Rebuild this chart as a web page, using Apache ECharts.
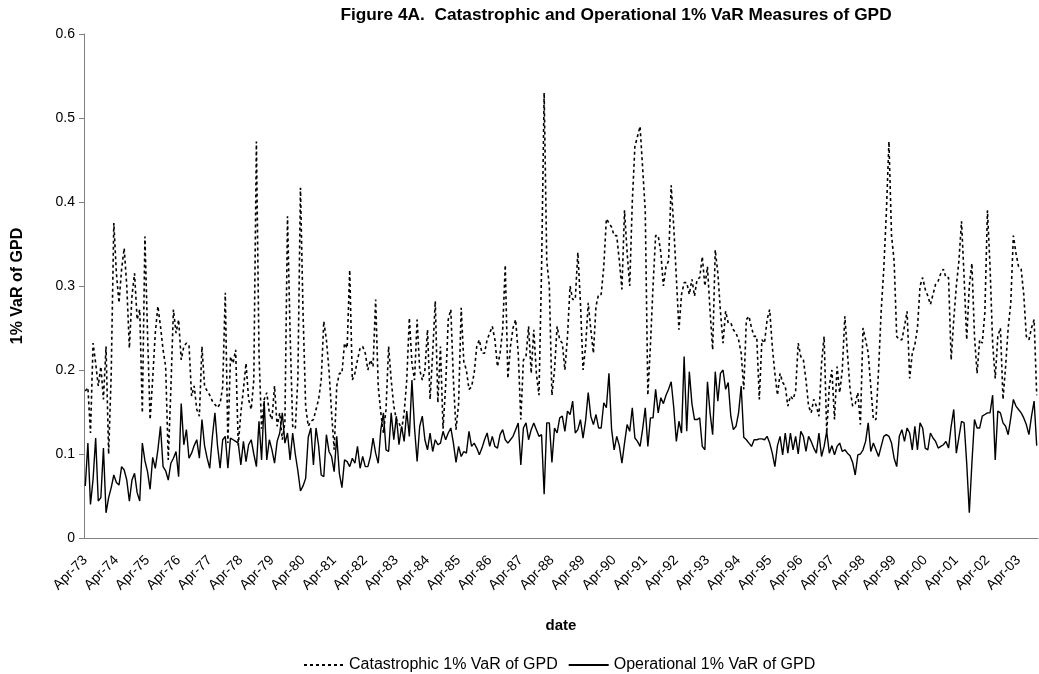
<!DOCTYPE html>
<html>
<head>
<meta charset="utf-8">
<script src="https://cdn.jsdelivr.net/npm/echarts@6/dist/echarts.min.js"></script>
<style>
  html, body { margin: 0; padding: 0; background: #fff; }
  #chart { width: 1039px; height: 674px; }
</style>
</head>
<body>
<div id="chart"></div>
<script>
// monthly series, Apr-73 onwards
var catastrophic = [
  0.175,0.179,0.125,0.232,0.208,0.181,0.204,0.165,0.228,0.100,0.196,0.375,0.315,0.280,0.320,0.345,0.300,0.226,0.288,0.315,0.260,0.272,0.149,0.359,0.244,0.141,0.190,0.244,0.276,0.252,0.224,0.204,0.093,0.177,0.272,0.244,0.260,0.212,0.228,0.232,0.230,0.169,0.181,0.153,0.145,
  0.228,0.181,0.175,0.170,0.163,0.159,0.155,0.160,0.180,0.292,0.113,0.216,0.208,0.224,0.110,0.149,0.177,0.208,0.165,0.153,0.188,0.472,0.220,0.130,0.165,0.173,0.149,0.141,0.181,0.133,0.149,0.117,0.137,0.383,0.244,0.133,0.130,0.190,0.417,0.268,0.157,0.133,0.139,0.141,0.153,
  0.165,0.188,0.258,0.236,0.200,0.149,0.105,0.181,0.196,0.196,0.232,0.226,0.319,0.188,0.196,0.212,0.226,0.228,0.220,0.200,0.212,0.204,0.284,0.180,0.149,0.125,0.153,0.228,0.188,0.157,0.141,0.137,0.129,0.149,0.188,0.262,0.208,0.188,0.260,0.200,0.188,0.200,0.248,0.165,
  0.220,0.282,0.161,0.228,0.130,0.181,0.260,0.272,0.188,0.129,0.160,0.274,0.210,0.200,0.177,0.180,0.196,0.228,0.236,0.220,0.220,0.236,0.244,0.252,0.236,0.204,0.220,0.248,0.325,0.190,0.228,0.250,0.260,0.220,0.141,0.212,0.216,0.252,0.196,0.248,0.196,0.170,0.320,0.530,0.330,
  0.300,0.170,0.200,0.252,0.236,0.232,0.200,0.240,0.300,0.284,0.284,0.340,0.280,0.200,0.228,0.280,0.248,0.220,0.276,0.290,0.290,0.323,0.380,0.375,0.370,0.360,0.360,0.330,0.296,0.390,0.340,0.300,0.400,0.466,0.478,0.490,0.440,0.390,0.170,0.230,0.300,0.360,0.360,0.340,
  0.300,0.323,0.330,0.420,0.370,0.310,0.248,0.290,0.304,0.304,0.290,0.308,0.288,0.308,0.310,0.335,0.300,0.323,0.270,0.224,0.343,0.315,0.270,0.232,0.270,0.256,0.256,0.248,0.244,0.236,0.220,0.177,0.260,0.264,0.250,0.240,0.240,0.165,0.236,0.232,0.260,0.272,0.228,0.196,0.170,
  0.196,0.185,0.181,0.157,0.169,0.165,0.175,0.232,0.216,0.212,0.188,0.157,0.149,0.165,0.157,0.145,0.208,0.240,0.125,0.181,0.200,0.141,0.204,0.173,0.200,0.264,0.220,0.177,0.157,0.160,0.173,0.135,0.250,0.236,0.220,0.180,0.141,0.141,0.200,0.270,0.320,0.387,0.472,0.360,
  0.330,0.240,0.236,0.236,0.252,0.270,0.190,0.220,0.230,0.250,0.300,0.310,0.296,0.288,0.278,0.290,0.302,0.306,0.315,0.320,0.310,0.310,0.212,0.260,0.300,0.330,0.377,0.310,0.236,0.300,0.327,0.240,0.196,0.236,0.232,0.268,0.390,0.323,0.232,0.190,0.240,0.250,0.165,0.204,0.250,0.280,0.360,0.339,0.323,0.320,0.290,0.240,0.236,0.250,0.260,0.170
];

var operational = [
  0.062,0.113,0.040,0.070,0.119,0.044,0.048,0.107,0.030,0.048,0.060,0.075,0.066,0.063,0.085,0.081,0.069,0.044,0.069,0.077,0.054,0.044,0.113,0.092,0.079,0.058,0.096,0.083,0.105,0.133,0.085,0.080,0.069,0.089,0.095,0.103,0.073,0.160,0.111,0.129,0.095,0.101,0.110,0.117,0.095,
  0.141,0.110,0.095,0.083,0.120,0.149,0.110,0.083,0.117,0.121,0.083,0.119,0.117,0.115,0.113,0.087,0.115,0.091,0.111,0.117,0.100,0.085,0.139,0.093,0.163,0.093,0.117,0.105,0.089,0.115,0.125,0.149,0.113,0.125,0.093,0.125,0.100,0.080,0.056,0.062,0.071,0.120,0.131,0.087,0.131,
  0.110,0.075,0.073,0.123,0.103,0.097,0.079,0.121,0.077,0.060,0.093,0.091,0.085,0.095,0.089,0.109,0.083,0.097,0.085,0.085,0.097,0.119,0.101,0.089,0.129,0.149,0.105,0.103,0.149,0.117,0.145,0.111,0.133,0.115,0.151,0.121,0.188,0.131,0.091,0.133,0.145,0.117,0.105,0.125,
  0.103,0.117,0.111,0.113,0.127,0.117,0.125,0.131,0.113,0.090,0.109,0.097,0.103,0.101,0.127,0.109,0.113,0.107,0.099,0.107,0.117,0.125,0.109,0.121,0.109,0.107,0.123,0.129,0.117,0.113,0.117,0.121,0.129,0.137,0.087,0.131,0.137,0.117,0.129,0.137,0.129,0.121,0.123,0.052,0.137,
  0.137,0.090,0.131,0.125,0.143,0.145,0.127,0.151,0.147,0.163,0.125,0.129,0.141,0.119,0.140,0.173,0.145,0.135,0.147,0.131,0.131,0.161,0.155,0.196,0.130,0.105,0.121,0.110,0.089,0.113,0.135,0.127,0.155,0.119,0.115,0.109,0.130,0.155,0.109,0.143,0.143,0.177,0.149,0.167,
  0.160,0.170,0.177,0.186,0.155,0.115,0.139,0.125,0.216,0.127,0.198,0.160,0.141,0.141,0.143,0.109,0.105,0.186,0.149,0.123,0.198,0.163,0.196,0.200,0.177,0.185,0.145,0.129,0.133,0.149,0.181,0.120,0.117,0.113,0.109,0.117,0.117,0.118,0.118,0.117,0.121,0.113,0.101,0.085,0.110,
  0.121,0.099,0.125,0.101,0.125,0.105,0.121,0.100,0.127,0.121,0.103,0.121,0.115,0.107,0.101,0.125,0.097,0.109,0.127,0.101,0.110,0.099,0.109,0.113,0.103,0.105,0.101,0.098,0.090,0.075,0.099,0.100,0.105,0.115,0.137,0.103,0.113,0.105,0.097,0.109,0.121,0.123,0.121,0.113,
  0.095,0.085,0.121,0.129,0.115,0.131,0.125,0.105,0.133,0.105,0.137,0.131,0.107,0.105,0.125,0.119,0.115,0.107,0.109,0.111,0.115,0.107,0.133,0.153,0.101,0.120,0.139,0.137,0.089,0.030,0.089,0.141,0.131,0.131,0.145,0.147,0.149,0.149,0.170,0.093,0.151,0.149,0.137,0.133,0.123,0.143,0.165,0.157,0.153,0.149,0.143,0.135,0.123,0.145,0.163,0.110
];

var monthNames = ['Jan','Feb','Mar','Apr','May','Jun','Jul','Aug','Sep','Oct','Nov','Dec'];
var startYear = 1973, startMonth = 3; // Apr-73

var dates = [];
for (var i = 0; i < catastrophic.length; i++) {
  var m = startMonth + i;
  var yr = (startYear + Math.floor(m / 12)) % 100;
  dates.push(monthNames[m % 12] + '-' + (yr < 10 ? '0' + yr : yr));
}

var font = 'Arial, "Liberation Sans", sans-serif';
var chart = echarts.init(document.getElementById('chart'), null, { renderer: 'canvas' });

var option = {
  animation: false,
  backgroundColor: '#fff',
  title: {
    text: 'Figure 4A.  Catastrophic and Operational 1% VaR Measures of GPD',
    left: 611,
    textAlign: 'center',
    top: 2,
    textStyle: { fontFamily: font, fontSize: 17.3, fontWeight: 'bold', color: '#000' }
  },
  legend: {
    left: 298,
    top: 652,
    itemWidth: 40,
    itemHeight: 10,
    itemGap: 10,
    itemStyle: { opacity: 0 },
    textStyle: { fontFamily: font, fontSize: 16, color: '#000' },
    data: ['Catastrophic 1% VaR of GPD', 'Operational 1% VaR of GPD']
  },
  grid: { left: 84, right: 1, top: 34, bottom: 136 },
  xAxis: {
    type: 'category',
    data: dates,
    boundaryGap: true,
    name: 'date',
    nameLocation: 'middle',
    nameGap: 80,
    nameMoveOverlap: false,
    nameTextStyle: { fontFamily: font, fontSize: 15, fontWeight: 'bold', color: '#000' },
    axisLine: { lineStyle: { color: '#808080', width: 1 } },
    axisTick: { show: false },
    axisLabel: {
      interval: 11,
      rotate: 45,
      margin: 20,
      fontFamily: font,
      fontSize: 14,
      color: '#000'
    },
    splitLine: { show: false }
  },
  yAxis: {
    type: 'value',
    min: 0,
    max: 0.6,
    interval: 0.1,
    name: '1% VaR of GPD',
    nameLocation: 'middle',
    nameGap: 58,
    nameMoveOverlap: false,
    nameTextStyle: { fontFamily: font, fontSize: 16, fontWeight: 'bold', color: '#000' },
    axisLine: { show: true, lineStyle: { color: '#808080', width: 1 } },
    axisTick: { show: true, length: 5, lineStyle: { color: '#808080' } },
    axisLabel: { fontFamily: font, fontSize: 14, color: '#000', margin: 9 },
    splitLine: { show: false }
  },
  series: [
    {
      name: 'Catastrophic 1% VaR of GPD',
      type: 'line',
      data: catastrophic,
      symbol: 'none',
      lineStyle: { color: '#000', width: 1.6, type: [3, 3] },
      itemStyle: { color: '#000' }
    },
    {
      name: 'Operational 1% VaR of GPD',
      type: 'line',
      data: operational,
      symbol: 'none',
      lineStyle: { color: '#000', width: 1.4, type: 'solid' },
      itemStyle: { color: '#000' }
    }
  ]
};

chart.setOption(option);
</script>
</body>
</html>
